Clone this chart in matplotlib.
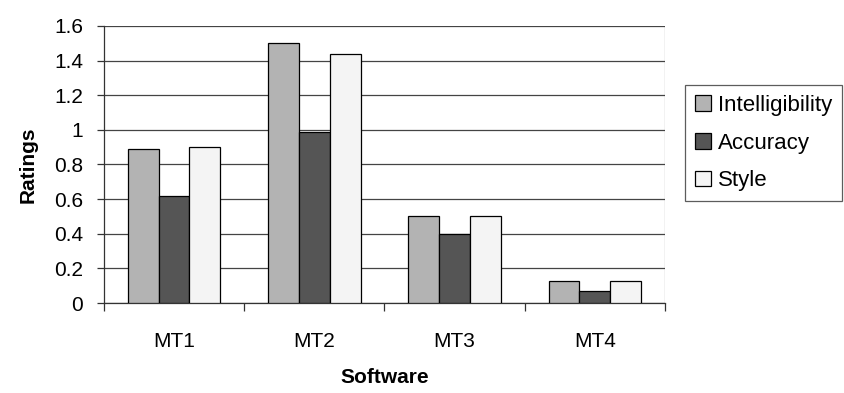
import numpy as np
import matplotlib
matplotlib.use("Agg")
import matplotlib.pyplot as plt
from matplotlib.ticker import FixedLocator, NullFormatter

plt.rcParams["font.family"] = ["Liberation Sans", "DejaVu Sans"]

software = ["MT1", "MT2", "MT3", "MT4"]
intelligibility = [0.89, 1.50, 0.50, 0.125]
accuracy = [0.62, 0.99, 0.40, 0.07]
style = [0.90, 1.44, 0.50, 0.125]

series = [
    ("Intelligibility", intelligibility, "#b3b3b3"),
    ("Accuracy", accuracy, "#555555"),
    ("Style", style, "#f4f4f4"),
]

fig = plt.figure(figsize=(8.45, 3.93), dpi=100)
ax = fig.add_axes([0.123, 0.229, 0.664, 0.705])

x = np.arange(len(software))
w = 0.22
for k, (name, vals, col) in enumerate(series):
    ax.bar(x + (k - 1) * w, vals, width=w, color=col, edgecolor="black",
           linewidth=0.9, label=name, zorder=3)

ax.set_xlim(-0.5, len(software) - 0.5)
ax.set_ylim(0, 1.6)
yt = np.arange(0, 1.61, 0.2)
ax.set_yticks(yt)
ax.set_yticklabels([f"{v:g}" for v in np.round(yt, 1)], fontsize=15)
ax.yaxis.grid(True, color="#444444", linewidth=0.9, zorder=0)

ax.set_xticks(x)
ax.set_xticklabels(software, fontsize=15)
ax.tick_params(axis="x", which="major", length=0, pad=21)
ax.xaxis.set_minor_locator(FixedLocator(np.arange(-0.5, len(software), 1.0)))
ax.xaxis.set_minor_formatter(NullFormatter())
ax.tick_params(axis="x", which="minor", length=6, width=0.9, color="#333333")
ax.tick_params(axis="y", length=5, width=0.9, color="#333333", pad=10)

for s in ["top", "right"]:
    ax.spines[s].set_visible(False)
ax.spines["left"].set_color("#333333")
ax.spines["bottom"].set_color("#333333")
ax.spines["left"].set_linewidth(0.9)
ax.spines["bottom"].set_linewidth(0.9)
# right edge of plot area as a thin gray line
ax.axvline(len(software) - 0.5, color="#999999", linewidth=0.9, zorder=1)

ax.set_ylabel("Ratings", fontsize=15, fontweight="bold", labelpad=12)
ax.set_xlabel("Software", fontsize=15, fontweight="bold", labelpad=12)

leg = fig.legend(loc="upper left", bbox_to_anchor=(0.811, 0.784), fontsize=16,
                 frameon=True, fancybox=False, edgecolor="#333333",
                 handlelength=0.7, handleheight=0.7, handletextpad=0.3,
                 labelspacing=0.75, borderpad=0.45, borderaxespad=0)
leg.get_frame().set_linewidth(0.9)

fig.savefig("out.png", dpi=100)
